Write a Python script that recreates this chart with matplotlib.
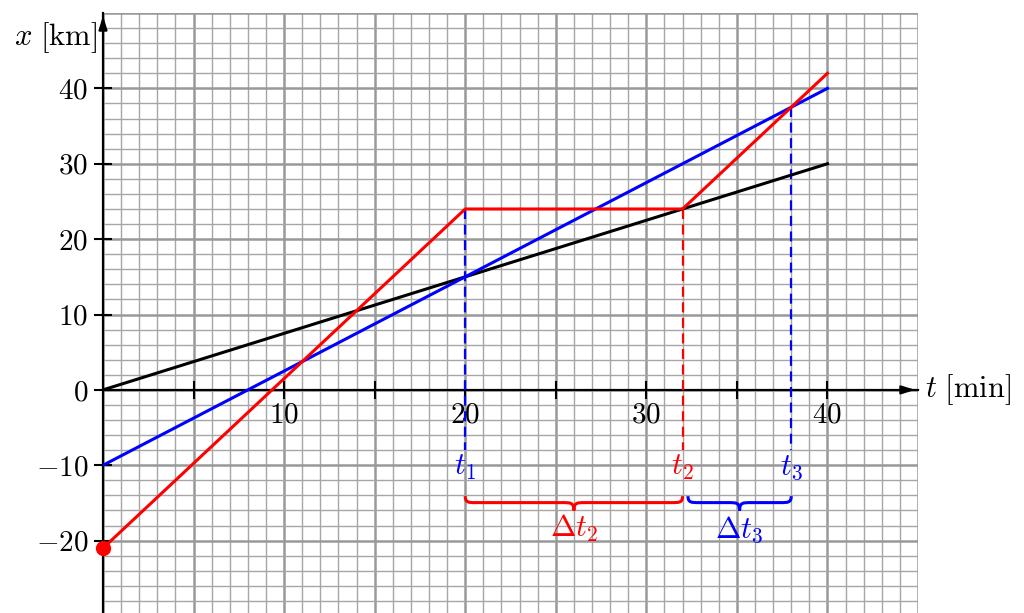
import numpy as np
import matplotlib
matplotlib.use('Agg')
from matplotlib import pyplot as plt
from matplotlib.path import Path
from matplotlib.patches import PathPatch

plt.rcParams['mathtext.fontset'] = 'cm'
plt.rcParams['font.family'] = 'serif'
plt.rcParams['font.serif'] = ['cmr10', 'DejaVu Serif']
plt.rcParams['axes.unicode_minus'] = True

# position-time data (t in min, x in km)
t_black = [0, 40]
x_black = [0, 30]
t_blue = [0, 40]
x_blue = [-10, 40]
t_red = [0, 20, 32, 40]
x_red = [-21, 24, 24, 42]

t1, t2, t3 = 20, 32, 38
x_t1, x_t2, x_t3 = 24, 24, 37.5

xtick_vals = [5, 10, 15, 20, 25, 30, 35, 40]
xtick_labels = ['', '$10$', '', '$20$', '', '$30$', '', '$40$']
ytick_vals = [-20, -10, 0, 10, 20, 30, 40]
ytick_labels = ['$-20$', '$-10$', '$0$', '$10$', '$20$', '$30$', '$40$']

fig = plt.figure(figsize=(10.24, 6.13), dpi=100)
ax = fig.add_axes([103/1024, 0, (918-103)/1024, 1 - 13/613])
ax.set_xlim(0, 45)
ax.set_ylim(-29.6, 50)

# millimetre-paper style grid
for v in np.arange(0, 46, 1):
    major = v % 5 == 0
    ax.axvline(v, color='#999999' if major else '#a6a6a6', lw=1.8 if major else 1.0, zorder=0)
for v in np.arange(-30, 51, 2):
    major = v % 10 == 0
    ax.axhline(v, color='#999999' if major else '#a6a6a6', lw=1.8 if major else 1.0, zorder=0)

for s in ['top', 'right']:
    ax.spines[s].set_visible(False)
ax.spines['left'].set_position(('data', 0))
ax.spines['bottom'].set_position(('data', 0))
ax.spines['left'].set_linewidth(1.6)
ax.spines['bottom'].set_linewidth(1.6)
ax.spines['left'].set_zorder(3)
ax.spines['bottom'].set_zorder(3)

ax.set_xticks(xtick_vals)
ax.set_xticklabels(xtick_labels)
ax.set_yticks(ytick_vals)
ax.set_yticklabels(ytick_labels)
ax.tick_params(axis='both', direction='inout', length=13, width=1.5, labelsize=21)
ax.tick_params(axis='x', pad=2)
ax.tick_params(axis='y', pad=4)

# arrow heads on the axes
ax.annotate('', xy=(45, 0), xytext=(44, 0),
            arrowprops=dict(arrowstyle='-|>,head_length=0.8,head_width=0.25', color='black', lw=1.6),
            annotation_clip=False, zorder=4)
ax.annotate('', xy=(0, 50), xytext=(0, 48),
            arrowprops=dict(arrowstyle='-|>,head_length=0.8,head_width=0.25', color='black', lw=1.6),
            annotation_clip=False, zorder=4)

ax.text(45.4, 0, r'$t\ [\mathrm{min}]$', fontsize=22, va='center', ha='left')
ax.text(-0.3, 46.7, r'$x\ [\mathrm{km}]$', fontsize=22, va='center', ha='right')

# lines
ax.plot(t_black, x_black, color='black', lw=2.2, zorder=5)
ax.plot(t_blue, x_blue, color='blue', lw=2.2, zorder=5)
ax.plot(t_red, x_red, color='red', lw=2.2, zorder=6)
ax.plot(t_red[0], x_red[0], 'o', color='red', ms=10, zorder=7, clip_on=False)

# dashed drop lines
dash = (0, (4.5, 2.5))
ax.plot([t1, t1], [x_t1, -8], color='blue', lw=1.6, ls=dash, zorder=4)
ax.plot([t2, t2], [x_t2, -8], color='red', lw=1.6, ls=dash, zorder=4)
ax.plot([t3, t3], [x_t3, -8], color='blue', lw=1.6, ls=dash, zorder=4)

ax.text(t1, -10.3, '$t_1$', color='blue', fontsize=22, ha='center', va='center')
ax.text(t2, -10.3, '$t_2$', color='red', fontsize=22, ha='center', va='center')
ax.text(t3, -10.3, '$t_3$', color='blue', fontsize=22, ha='center', va='center')


def brace(a, b, y0, h, color):
    # curly brace opening upward, tip pointing down
    m = (a + b) / 2
    q = 0.6
    yf = y0 - h * 0.45
    yt = y0 - h
    verts = [(a, y0), (a, yf), (a + q * 0.3, yf), (a + q, yf),
             (m - q, yf),
             (m - q * 0.3, yf), (m, yf), (m, yt),
             (m, yf), (m + q * 0.3, yf), (m + q, yf),
             (b - q, yf),
             (b - q * 0.3, yf), (b, yf), (b, y0)]
    codes = [Path.MOVETO, Path.CURVE4, Path.CURVE4, Path.CURVE4,
             Path.LINETO,
             Path.CURVE4, Path.CURVE4, Path.CURVE4,
             Path.CURVE4, Path.CURVE4, Path.CURVE4,
             Path.LINETO,
             Path.CURVE4, Path.CURVE4, Path.CURVE4]
    ax.add_patch(PathPatch(Path(verts, codes), fill=False, edgecolor=color, lw=2.2, zorder=5))


brace(t1, t2, -14.1, 1.9, 'red')
brace(t2 + 0.3, t3, -14.1, 1.9, 'blue')
ax.text((t1 + t2) / 2, -18.4, r'$\Delta t_2$', color='red', fontsize=22, ha='center', va='center')
ax.text((t2 + 0.3 + t3) / 2, -18.6, r'$\Delta t_3$', color='blue', fontsize=22, ha='center', va='center')

fig.savefig('out.png', dpi=100)
